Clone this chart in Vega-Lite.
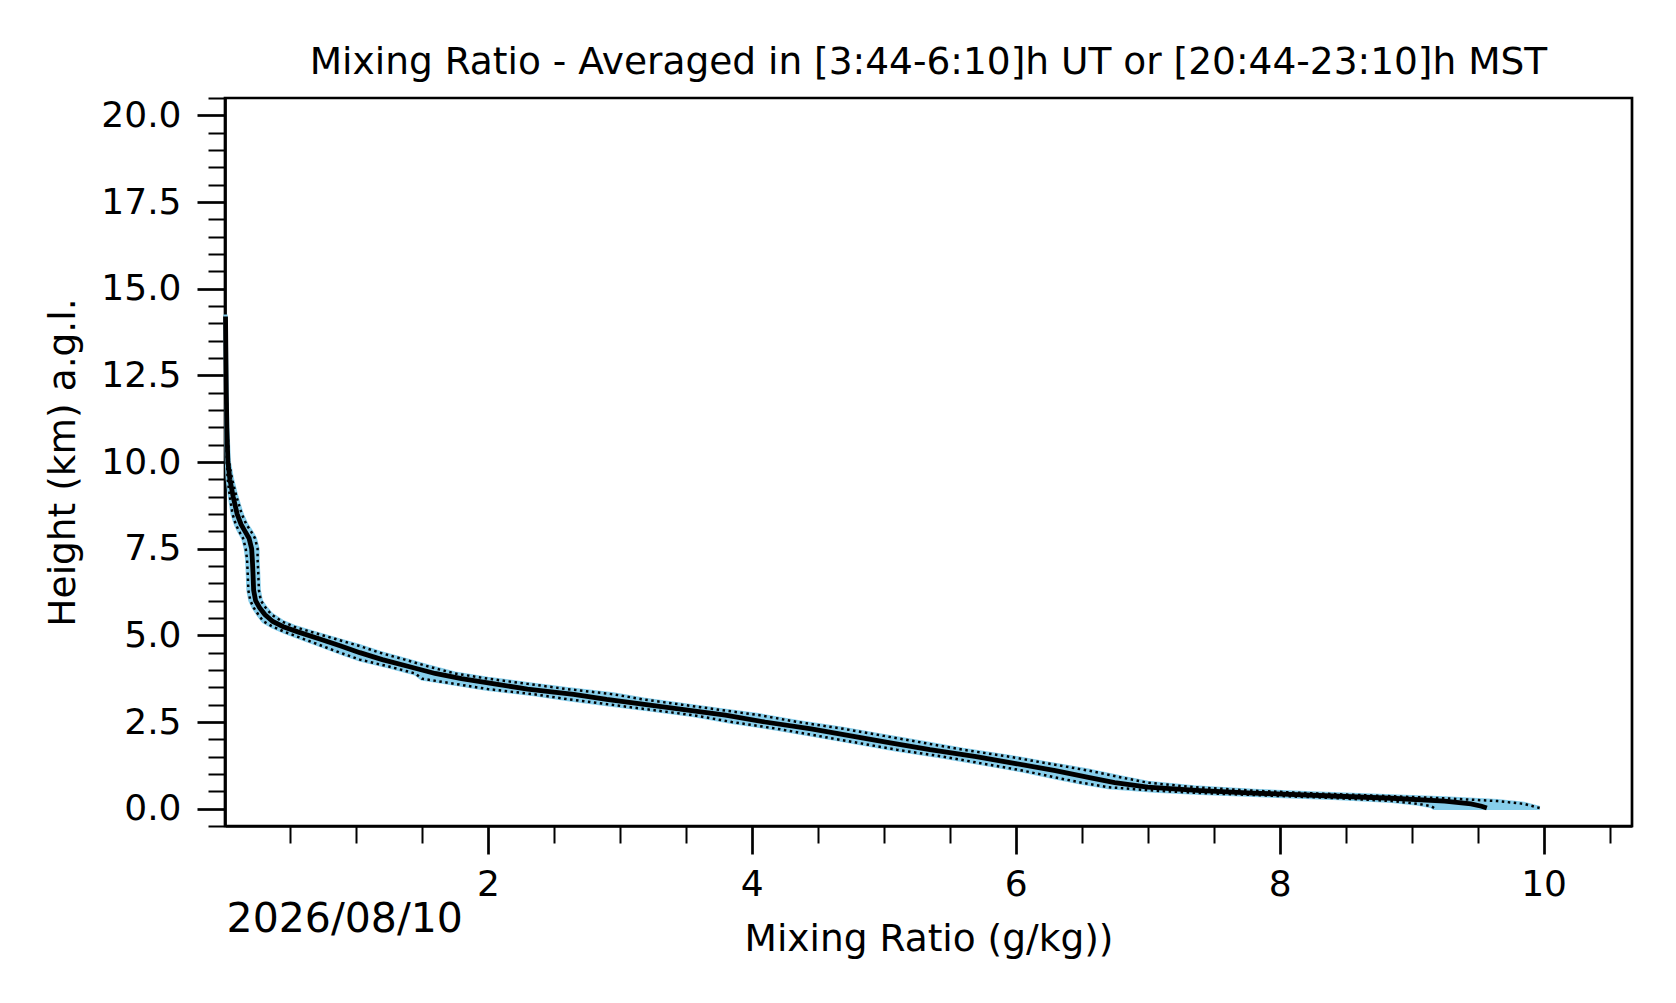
{
  "$schema": "https://vega.github.io/schema/vega-lite/v6.json",
  "width": 1407,
  "height": 728,
  "autosize": {"type": "none"},
  "padding": {"left": 225, "top": 98, "right": 44, "bottom": 177},
  "background": "white",
  "config": {
    "font": "DejaVu Sans",
    "view": {"stroke": "black", "strokeWidth": 2.7}
  },
  "title": {
    "text": "Mixing Ratio - Averaged in [3:44-6:10]h UT or [20:44-23:10]h MST",
    "fontSize": 37.5,
    "fontWeight": "normal",
    "color": "black",
    "anchor": "middle",
    "baseline": "alphabetic",
    "offset": -10,
    "dy": 21
  },
  "data": {
    "values": [
      {"h": 14.2, "m": 0.012, "lo": 0.011, "hi": 0.013},
      {"h": 13.0, "m": 0.015, "lo": 0.013, "hi": 0.017},
      {"h": 12.0, "m": 0.018, "lo": 0.015, "hi": 0.021},
      {"h": 11.0, "m": 0.022, "lo": 0.018, "hi": 0.026},
      {"h": 10.0, "m": 0.03, "lo": 0.022, "hi": 0.038},
      {"h": 9.5, "m": 0.045, "lo": 0.028, "hi": 0.062},
      {"h": 9.0, "m": 0.07, "lo": 0.045, "hi": 0.095},
      {"h": 8.5, "m": 0.1, "lo": 0.065, "hi": 0.135},
      {"h": 8.2, "m": 0.13, "lo": 0.09, "hi": 0.17},
      {"h": 8.0, "m": 0.16, "lo": 0.115, "hi": 0.205},
      {"h": 7.8, "m": 0.19, "lo": 0.145, "hi": 0.235},
      {"h": 7.5, "m": 0.21, "lo": 0.165, "hi": 0.255},
      {"h": 7.2, "m": 0.215, "lo": 0.175, "hi": 0.255},
      {"h": 6.8, "m": 0.22, "lo": 0.18, "hi": 0.26},
      {"h": 6.3, "m": 0.225, "lo": 0.185, "hi": 0.265},
      {"h": 6.0, "m": 0.24, "lo": 0.2, "hi": 0.28},
      {"h": 5.8, "m": 0.27, "lo": 0.225, "hi": 0.315},
      {"h": 5.6, "m": 0.31, "lo": 0.26, "hi": 0.36},
      {"h": 5.4, "m": 0.37, "lo": 0.3, "hi": 0.44},
      {"h": 5.25, "m": 0.45, "lo": 0.37, "hi": 0.53},
      {"h": 5.1, "m": 0.56, "lo": 0.46, "hi": 0.66},
      {"h": 4.9, "m": 0.72, "lo": 0.6, "hi": 0.84},
      {"h": 4.7, "m": 0.88, "lo": 0.74, "hi": 1.02},
      {"h": 4.5, "m": 1.03, "lo": 0.88, "hi": 1.18},
      {"h": 4.3, "m": 1.2, "lo": 1.03, "hi": 1.37},
      {"h": 4.1, "m": 1.4, "lo": 1.25, "hi": 1.55},
      {"h": 3.9, "m": 1.6, "lo": 1.45, "hi": 1.75},
      {"h": 3.75, "m": 1.8, "lo": 1.5, "hi": 2.0},
      {"h": 3.6, "m": 2.05, "lo": 1.75, "hi": 2.3},
      {"h": 3.45, "m": 2.3, "lo": 2.0, "hi": 2.6},
      {"h": 3.3, "m": 2.65, "lo": 2.35, "hi": 2.95},
      {"h": 3.15, "m": 2.9, "lo": 2.62, "hi": 3.18},
      {"h": 3.0, "m": 3.2, "lo": 2.93, "hi": 3.47},
      {"h": 2.85, "m": 3.5, "lo": 3.24, "hi": 3.76},
      {"h": 2.7, "m": 3.8, "lo": 3.55, "hi": 4.05},
      {"h": 2.5, "m": 4.1, "lo": 3.85, "hi": 4.35},
      {"h": 2.3, "m": 4.45, "lo": 4.2, "hi": 4.7},
      {"h": 2.1, "m": 4.75, "lo": 4.5, "hi": 5.0},
      {"h": 1.9, "m": 5.05, "lo": 4.8, "hi": 5.3},
      {"h": 1.7, "m": 5.35, "lo": 5.1, "hi": 5.6},
      {"h": 1.5, "m": 5.7, "lo": 5.45, "hi": 5.95},
      {"h": 1.3, "m": 6.0, "lo": 5.75, "hi": 6.25},
      {"h": 1.1, "m": 6.3, "lo": 6.05, "hi": 6.55},
      {"h": 0.9, "m": 6.55, "lo": 6.3, "hi": 6.8},
      {"h": 0.75, "m": 6.75, "lo": 6.5, "hi": 7.0},
      {"h": 0.62, "m": 7.0, "lo": 6.7, "hi": 7.35},
      {"h": 0.52, "m": 7.4, "lo": 7.05, "hi": 7.8},
      {"h": 0.45, "m": 7.8, "lo": 7.4, "hi": 8.2},
      {"h": 0.38, "m": 8.3, "lo": 7.9, "hi": 8.7},
      {"h": 0.3, "m": 8.85, "lo": 8.45, "hi": 9.25},
      {"h": 0.22, "m": 9.25, "lo": 8.85, "hi": 9.65},
      {"h": 0.14, "m": 9.45, "lo": 9.05, "hi": 9.85},
      {"h": 0.07, "m": 9.53, "lo": 9.15, "hi": 9.92},
      {"h": 0.02, "m": 9.57, "lo": 9.17, "hi": 9.97}
    ]
  },
  "layer": [
    {
      "mark": {"type": "area", "orient": "horizontal", "color": "#87ceeb", "stroke": "#87ceeb", "strokeWidth": 4, "opacity": 1},
      "encoding": {
        "y": {
          "field": "h",
          "type": "quantitative",
          "title": "Height (km) a.g.l.",
          "scale": {"domain": [-0.5, 20.5], "nice": false, "zero": false},
          "axis": {
            "values": [-0.5, 0, 0.5, 1, 1.5, 2, 2.5, 3, 3.5, 4, 4.5, 5, 5.5, 6, 6.5, 7, 7.5, 8, 8.5, 9, 9.5, 10, 10.5, 11, 11.5, 12, 12.5, 13, 13.5, 14, 14.5, 15, 15.5, 16, 16.5, 17, 17.5, 18, 18.5, 19, 19.5, 20, 20.5],
            "tickCount": 100,
            "labelExpr": "datum.value % 2.5 === 0 ? format(datum.value, '.1f') : ''",
            "labelFontSize": 36,
            "labelColor": "black",
            "labelPadding": 16,
            "labelFlush": false,
            "labelOverlap": false,
            "grid": false,
            "domainColor": "black",
            "domainWidth": 2.7,
            "tickColor": "black",
            "tickSize": {"condition": {"test": "datum.value % 2.5 === 0", "value": 28}, "value": 17},
            "tickWidth": {"condition": {"test": "datum.value % 2.5 === 0", "value": 2.7}, "value": 2},
            "titleFontSize": 37.5,
            "titleFontWeight": "normal",
            "titleColor": "black",
            "titlePadding": 18
          }
        },
        "x": {
          "field": "lo",
          "type": "quantitative",
          "title": "Mixing Ratio (g/kg))",
          "scale": {"domain": [0.008, 10.67], "nice": false, "zero": false},
          "axis": {
            "values": [0.5, 1, 1.5, 2, 2.5, 3, 3.5, 4, 4.5, 5, 5.5, 6, 6.5, 7, 7.5, 8, 8.5, 9, 9.5, 10, 10.5],
            "tickCount": 100,
            "labelExpr": "datum.value % 2 === 0 ? format(datum.value, 'd') : ''",
            "labelFontSize": 36,
            "labelColor": "black",
            "labelPadding": 13,
            "labelFlush": false,
            "labelOverlap": false,
            "grid": false,
            "domainColor": "black",
            "domainWidth": 2.7,
            "tickColor": "black",
            "tickSize": {"condition": {"test": "datum.value % 2 === 0", "value": 28}, "value": 17},
            "tickWidth": {"condition": {"test": "datum.value % 2 === 0", "value": 2.7}, "value": 2},
            "titleFontSize": 37.5,
            "titleFontWeight": "normal",
            "titleColor": "black",
            "titlePadding": 18
          }
        },
        "x2": {"field": "hi"}
      }
    },
    {
      "mark": {"type": "line", "color": "black", "strokeWidth": 2.5, "strokeDash": [2.5, 3.5]},
      "encoding": {
        "x": {"field": "lo", "type": "quantitative", "title": "Mixing Ratio (g/kg))"},
        "y": {"field": "h", "type": "quantitative", "title": "Height (km) a.g.l."},
        "order": {"field": "h", "type": "quantitative"}
      }
    },
    {
      "mark": {"type": "line", "color": "black", "strokeWidth": 2.5, "strokeDash": [2.5, 3.5]},
      "encoding": {
        "x": {"field": "hi", "type": "quantitative", "title": "Mixing Ratio (g/kg))"},
        "y": {"field": "h", "type": "quantitative", "title": "Height (km) a.g.l."},
        "order": {"field": "h", "type": "quantitative"}
      }
    },
    {
      "mark": {"type": "line", "color": "black", "strokeWidth": 4.8},
      "encoding": {
        "x": {"field": "m", "type": "quantitative", "title": "Mixing Ratio (g/kg))"},
        "y": {"field": "h", "type": "quantitative", "title": "Height (km) a.g.l."},
        "order": {"field": "h", "type": "quantitative"}
      }
    },
    {
      "data": {"values": [{"label": "2026/08/10", "x": 0.02, "y": -3.556}]},
      "mark": {"type": "text", "align": "left", "baseline": "alphabetic", "fontSize": 41, "color": "black"},
      "encoding": {
        "x": {"field": "x", "type": "quantitative", "title": "Mixing Ratio (g/kg))"},
        "y": {"field": "y", "type": "quantitative", "title": "Height (km) a.g.l."},
        "text": {"field": "label"}
      }
    }
  ]
}
